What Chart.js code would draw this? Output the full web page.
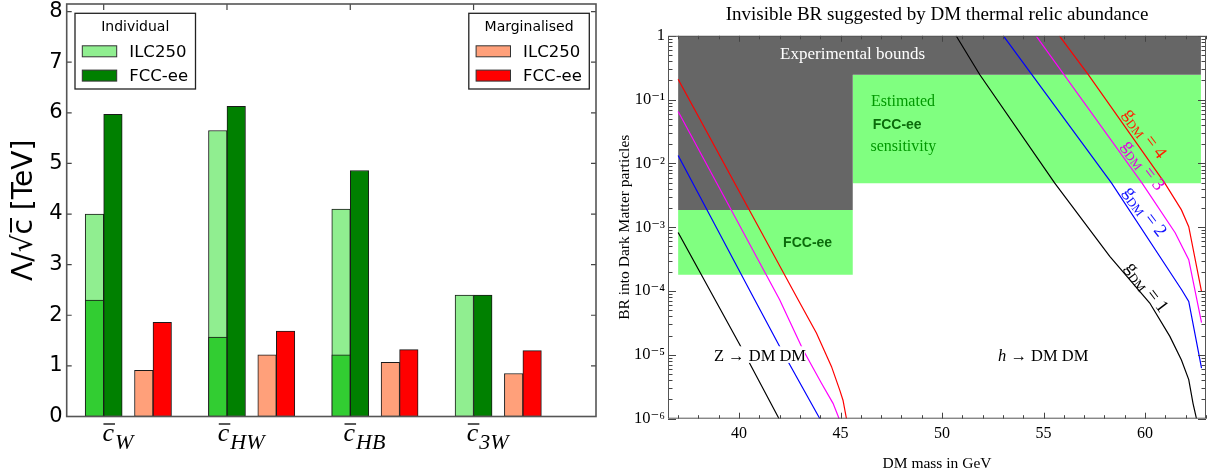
<!DOCTYPE html>
<html>
<head>
<meta charset="utf-8">
<script src="https://cdn.jsdelivr.net/npm/chart.js@4.4.0/dist/chart.umd.min.js"></script>
<style>
  html, body { margin: 0; padding: 0; background: #fff; }
  #wrap { position: relative; width: 1207px; height: 473px; overflow: hidden; }
  #reach { position: absolute; left: 0; top: 0; }
  #relic { position: absolute; left: 610px; top: 0; }
</style>
</head>
<body>
<div id="wrap">
  <canvas id="reach" width="610" height="473"></canvas>
  <canvas id="relic" width="597" height="473"></canvas>
</div>
<script>
// ---------------- left panel: reach on Λ/√c (TeV) ----------------
const operators = ['W', 'HW', 'HB', '3W']          // subscripts of c̄
const indivILC250 = [4.00, 5.65, 4.10, 2.40]
const indivILC250Low = [2.30, 1.57, 1.22, null]    // darker lower part of the ILC250 bar
const indivFCCee = [5.97, 6.13, 4.86, 2.40]
const margILC250 = [0.91, 1.22, 1.07, 0.85]
const margFCCee = [1.86, 1.69, 1.32, 1.30]
const reachTicks = [0, 1, 2, 3, 4, 5, 6, 7, 8]

// ---------------- right panel: invisible BR vs DM mass ----------------
const massTicks = [40, 45, 50, 55, 60]
const brTicks = [1, 1e-1, 1e-2, 1e-3, 1e-4, 1e-5, 1e-6]
const brTickLabels = ['1', '10⁻¹', '10⁻²', '10⁻³', '10⁻⁴', '10⁻⁵', '10⁻⁶']

// shaded regions, corners as [mass, BR]
const boundsRegion = [[37, 1], [62.75, 1], [62.75, 0.245], [45.6, 0.245], [45.6, 1.87e-3], [37, 1.87e-3]]
const fccSensRegion = [[45.6, 0.245], [62.75, 0.245], [62.75, 4.9e-3], [45.6, 4.9e-3]]
const fccZRegion = [[37, 1.87e-3], [45.6, 1.87e-3], [45.6, 1.8e-4], [37, 1.8e-4]]

// Z -> DM DM curves, [mass, BR]
const zCurveG1 = [[37, 8.3e-4], [40.03, 1.45e-5], [41.97, 1e-6]]
const zCurveG2 = [[37, 1.33e-2], [40.77, 7.3e-5], [42.0, 1.35e-5], [43.98, 1e-6]]
const zCurveG3 = [[37, 6.5e-2], [42.0, 7.3e-5], [43.15, 1.2e-5], [44.06, 3.6e-6], [44.63, 1.74e-6], [44.93, 1e-6]]
const zCurveG4 = [[37, 0.209], [42.91, 7.3e-5], [43.81, 2.2e-5], [44.55, 6.6e-6], [44.96, 2.8e-6], [45.12, 1.95e-6], [45.29, 1e-6]]

// h -> DM DM curves, [mass, BR]
const hCurveG1 = [[50.69, 1], [51.86, 0.245], [55.55, 4.9e-3], [58.26, 3.5e-4], [60.23, 6.5e-5], [61.22, 1.95e-5], [61.79, 8.3e-6], [62.15, 4.1e-6], [62.36, 1.74e-6], [62.53, 1e-6]]
const hCurveG2 = [[53.02, 1], [58.35, 4.9e-3], [61.8, 1.05e-4], [62.15, 6.9e-5], [62.78, 6.2e-6]]
const hCurveG3 = [[54.63, 1], [59.85, 4.9e-3], [61.48, 8.2e-4], [62.15, 3.1e-4], [62.78, 3.2e-5]]
const hCurveG4 = [[55.78, 1], [57.21, 0.245], [60.97, 4.9e-3], [61.79, 1.87e-3], [62.15, 1.02e-3], [62.78, 9.8e-5]]

const SERIF = '"Liberation Serif", "DejaVu Serif", serif'
const SANS = '"DejaVu Sans", sans-serif'

Chart.defaults.color = '#000'
Chart.defaults.animation = false

// text made of parts (sub/superscripts), centred on x,y, optionally rotated
function drawRich(ctx, parts, x, y, angle, color) {
    ctx.save()
    ctx.translate(x, y)
    ctx.rotate(angle || 0)
    ctx.fillStyle = color
    ctx.textAlign = 'left'
    ctx.textBaseline = 'alphabetic'
    let total = 0
    for (const p of parts) { ctx.font = p.font; p.w = ctx.measureText(p.t).width; total += p.w }
    let cx = -total / 2
    for (const p of parts) {
        ctx.font = p.font
        ctx.fillText(p.t, cx, (p.dy || 0) + 6)
        cx += p.w
    }
    ctx.restore()
}

// ---------------- left chart ----------------
const toBars = (vals, off) => vals.map((v, i) => ({ x: i + off, y: v }))

const barLook = { borderColor: '#1a1a1a', borderWidth: 1, borderSkipped: false, grouped: false, categoryPercentage: 1, barPercentage: 1 }

const reachFrame = {
    id: 'reachFrame',
    afterDatasetsDraw(chart) {
        const { ctx, chartArea: a, scales: { x, y } } = chart
        ctx.save()
        ctx.strokeStyle = '#444'
        ctx.lineWidth = 1.2
        ctx.beginPath()
        for (const v of reachTicks) {
            const py = y.getPixelForValue(v)
            ctx.moveTo(a.left, py); ctx.lineTo(a.left + 5, py)
            ctx.moveTo(a.right, py); ctx.lineTo(a.right - 5, py)
        }
        for (const t of x.ticks) {
            const px = x.getPixelForValue(t.value)
            ctx.moveTo(px, a.top); ctx.lineTo(px, a.top + 6)
        }
        ctx.stroke()
        ctx.strokeStyle = '#555'
        ctx.lineWidth = 1.6
        ctx.strokeRect(a.left, a.top, a.width, a.height)

        // c̄ labels with subscripts
        operators.forEach((sub, i) => {
            const cx = x.getPixelForValue(i + 0.19)
            ctx.font = 'italic 26px ' + SERIF
            const wc = ctx.measureText('c').width
            ctx.font = 'italic 22px ' + SERIF
            const ws = ctx.measureText(sub).width
            const left = cx - (wc + ws + 1) / 2
            const base = a.bottom + 24
            ctx.fillStyle = '#000'
            ctx.textAlign = 'left'
            ctx.textBaseline = 'alphabetic'
            ctx.font = 'italic 26px ' + SERIF
            ctx.fillText('c', left, base)
            ctx.font = 'italic 22px ' + SERIF
            ctx.fillText(sub, left + wc + 1, base + 8)
            ctx.strokeStyle = '#000'
            ctx.lineWidth = 1.3
            ctx.beginPath()
            ctx.moveTo(left + 1, base - 16.5)
            ctx.lineTo(left + wc + 1, base - 16.5)
            ctx.stroke()
        })

        // two legend boxes
        const drawBox = (left, title, group) => {
            const top = a.top + 9.3, w = 120.5, h = 75.7
            const entries = chart.data.datasets.filter(d => d.group === group)
            ctx.fillStyle = '#fff'
            ctx.fillRect(left, top, w, h)
            ctx.strokeStyle = '#222'
            ctx.lineWidth = 1.3
            ctx.strokeRect(left, top, w, h)
            ctx.fillStyle = '#000'
            ctx.font = '14px ' + SANS
            ctx.textAlign = 'center'
            ctx.textBaseline = 'middle'
            ctx.fillText(title, left + w / 2, top + 14)
            entries.forEach((d, k) => {
                const cy = top + 38 + k * 24.3
                ctx.fillStyle = d.backgroundColor
                ctx.fillRect(left + 7.3, cy - 5.5, 34.4, 11)
                ctx.strokeStyle = '#333'
                ctx.lineWidth = 1
                ctx.strokeRect(left + 7.3, cy - 5.5, 34.4, 11)
                ctx.fillStyle = '#000'
                ctx.font = '16.5px ' + SANS
                ctx.textAlign = 'left'
                ctx.fillText(d.label, left + 54.3, cy + 1)
            })
        }
        drawBox(a.left + 8.3, 'Individual', 'Individual')
        drawBox(a.right - 6.7 - 120.5, 'Marginalised', 'Marginalised')
        ctx.restore()
    }
}

new Chart(document.getElementById('reach'), {
    type: 'bar',
    data: {
        datasets: [
            { label: 'ILC250 (lower)', data: toBars(indivILC250Low, 0), backgroundColor: '#32cd32', ...barLook },
            { label: 'ILC250', group: 'Individual', data: toBars(indivILC250, 0), backgroundColor: '#90ee90', ...barLook },
            { label: 'FCC-ee', group: 'Individual', data: toBars(indivFCCee, 0.15), backgroundColor: '#008000', ...barLook },
            { label: 'ILC250', group: 'Marginalised', data: toBars(margILC250, 0.40), backgroundColor: '#ffa07a', ...barLook },
            { label: 'FCC-ee', group: 'Marginalised', data: toBars(margFCCee, 0.55), backgroundColor: '#ff0000', ...barLook },
        ]
    },
    options: {
        responsive: false,
        devicePixelRatio: 1,
        layout: { padding: { left: 0, right: 14, top: 4, bottom: 0 } },
        plugins: { legend: { display: false }, tooltip: { enabled: false } },
        scales: {
            x: {
                type: 'linear', min: -0.225, max: 4.068, offset: false,
                grid: { display: false, drawTicks: false, offset: false }, border: { display: false },
                ticks: { display: false },
                afterBuildTicks: s => { s.ticks = operators.map((_, i) => ({ value: i + 0.075 })) },
                afterFit: s => { s.height = 56.5; s.paddingLeft = 0; s.paddingRight = 0 }
            },
            y: {
                min: 0, max: 8.15,
                grid: { display: false, drawTicks: false }, border: { display: false },
                afterBuildTicks: s => { s.ticks = reachTicks.map(v => ({ value: v })) },
                ticks: { font: { family: SANS, size: 21 }, padding: 4, autoSkip: false },
                title: { display: true, text: 'Λ/√c̅ [TeV]', font: { family: SANS, size: 28 }, padding: { top: 8, bottom: 0 } },
                afterFit: s => { s.width = 66.7; s.paddingTop = 0; s.paddingBottom = 0 }
            }
        }
    },
    plugins: [reachFrame]
})

// ---------------- right chart ----------------
const pts = pairs => pairs.map(([x, y]) => ({ x, y }))
const curve = (label, pairs, color) => ({ label, data: pts(pairs), borderColor: color, borderWidth: 1.2, pointRadius: 0, tension: 0, fill: false, order: 0 })
const region = (label, pairs, color) => ({ label, data: pts(pairs), borderColor: 'transparent', backgroundColor: color, borderWidth: 0, pointRadius: 0, tension: 0, fill: 'shape', order: 5 })

const relicNotes = {
    id: 'relicNotes',
    afterDatasetsDraw(chart) {
        const { ctx, chartArea: a, scales: { x, y } } = chart
        const P = (mx, br) => [x.getPixelForValue(mx), y.getPixelForValue(br)]
        ctx.save()
        const text = (t, mx, br, font, color, align) => {
            const [px, py] = P(mx, br)
            ctx.font = font
            ctx.fillStyle = color
            ctx.textAlign = align
            ctx.textBaseline = 'middle'
            ctx.fillText(t, px, py)
        }
        text('Experimental bounds', 45.59, 0.50, '17px ' + SERIF, '#fff', 'center')
        text('Estimated', 46.5, 0.0925, '16px ' + SERIF, '#009900', 'left')
        text('FCC-ee', 46.58, 0.0403, 'bold 14px "Liberation Sans", sans-serif', '#0b6b0b', 'left')
        text('sensitivity', 46.47, 0.0184, '16px ' + SERIF, '#009900', 'left')
        text('FCC-ee', 42.17, 5.7e-4, 'bold 14px "Liberation Sans", sans-serif', '#0b6b0b', 'left')

        // process labels, the Z one sits on a white patch over the curves
        const [zx, zy] = P(41.03, 1.01e-5)
        ctx.fillStyle = '#fff'
        ctx.fillRect(zx - 45, zy - 8.3, 90, 16.6)
        const f = '16.5px ' + SERIF
        drawRich(ctx, [{ t: 'Z → DM DM', font: f }], zx, zy, 0, '#000')
        const [hx, hy] = P(54.98, 1e-5)
        drawRich(ctx, [{ t: 'h', font: 'italic ' + f }, { t: ' → DM DM', font: f }], hx, hy, 0, '#000')

        // coupling labels along the curves
        const g = [['4', '#ff2000', 60.02, 0.030], ['3', '#e000e0', 59.95, 9.5e-3], ['2', '#1010ff', 60.03, 1.8e-3], ['1', '#000', 60.12, 1.17e-4]]
        for (const [n, col, mx, br] of g) {
            const [px, py] = P(mx, br)
            drawRich(ctx, [
                { t: 'g', font: '18.5px ' + SERIF },
                { t: 'DM', font: '12.5px ' + SERIF, dy: 4 },
                { t: ' = ' + n, font: '18.5px ' + SERIF }
            ], px, py, 0.92, col)
        }

        // frame with inward ticks on all sides
        ctx.strokeStyle = '#444'
        ctx.lineWidth = 1
        ctx.beginPath()
        for (let k = -6; k <= 0; k++) {
            for (let m = 1; m <= 9; m++) {
                const v = m * Math.pow(10, k)
                if (v > 1.0000001) break
                const py = Math.round(y.getPixelForValue(v)) + 0.5
                const len = m === 1 ? 8 : 4.5
                ctx.moveTo(a.left, py); ctx.lineTo(a.left + len, py)
                ctx.moveTo(a.right, py); ctx.lineTo(a.right - len, py)
            }
        }
        for (let mv = Math.ceil(x.min); mv <= Math.floor(x.max); mv++) {
            const px = Math.round(x.getPixelForValue(mv)) + 0.5
            const len = mv % 5 === 0 ? 6 : 3.5
            ctx.moveTo(px, a.bottom); ctx.lineTo(px, a.bottom - len)
            ctx.moveTo(px, a.top); ctx.lineTo(px, a.top + len)
        }
        ctx.stroke()
        ctx.strokeStyle = '#555'
        ctx.strokeRect(a.left + 0.5, a.top + 0.5, a.width - 1, a.height - 1)
        ctx.restore()
    }
}

new Chart(document.getElementById('relic'), {
    type: 'line',
    data: {
        datasets: [
            curve('g_DM = 1 (Z)', zCurveG1, '#000'),
            curve('g_DM = 2 (Z)', zCurveG2, '#0000ff'),
            curve('g_DM = 3 (Z)', zCurveG3, '#ff00ff'),
            curve('g_DM = 4 (Z)', zCurveG4, '#ff0000'),
            curve('g_DM = 1 (h)', hCurveG1, '#000'),
            curve('g_DM = 2 (h)', hCurveG2, '#0000ff'),
            curve('g_DM = 3 (h)', hCurveG3, '#ff00ff'),
            curve('g_DM = 4 (h)', hCurveG4, '#ff0000'),
            region('Experimental bounds', boundsRegion, '#666666'),
            region('Estimated FCC-ee sensitivity', fccSensRegion, '#80ff80'),
            region('FCC-ee', fccZRegion, '#80ff80'),
        ]
    },
    options: {
        responsive: false,
        devicePixelRatio: 1,
        layout: { padding: { left: 0, right: 1, top: 0, bottom: 0 } },
        plugins: {
            legend: { display: false },
            tooltip: { enabled: false },
            title: {
                display: true, fullSize: false,
                text: 'Invisible BR suggested by DM thermal relic abundance',
                font: { family: SERIF, size: 19, weight: 'normal' },
                padding: { top: 4, bottom: 9 }
            }
        },
        scales: {
            x: {
                type: 'linear', min: 36.5, max: 63,
                grid: { display: false, drawTicks: false }, border: { display: false },
                afterBuildTicks: s => { s.ticks = massTicks.map(v => ({ value: v })) },
                ticks: { font: { family: SERIF, size: 16 }, padding: 5, maxRotation: 0, autoSkip: false },
                title: { display: true, text: 'DM mass in GeV', font: { family: SERIF, size: 15.5 }, padding: { top: 0, bottom: 0 } },
                afterFit: s => { s.height = 54.3; s.paddingLeft = 0; s.paddingRight = 0 }
            },
            y: {
                type: 'logarithmic', min: 1e-6, max: 1,
                grid: { display: false, drawTicks: false }, border: { display: false },
                afterBuildTicks: s => { s.ticks = brTicks.map(v => ({ value: v })) },
                ticks: {
                    callback: v => brTickLabels[brTicks.indexOf(v)],
                    font: { family: SERIF, size: 16.5 }, padding: 3, autoSkip: false
                },
                title: { display: true, text: 'BR into Dark Matter particles', font: { family: SERIF, size: 15.5 }, padding: { top: 6, bottom: 0 } },
                afterFit: s => { s.width = 58; s.paddingTop = 0; s.paddingBottom = 0 }
            }
        }
    },
    plugins: [relicNotes]
})
</script>
</body>
</html>
